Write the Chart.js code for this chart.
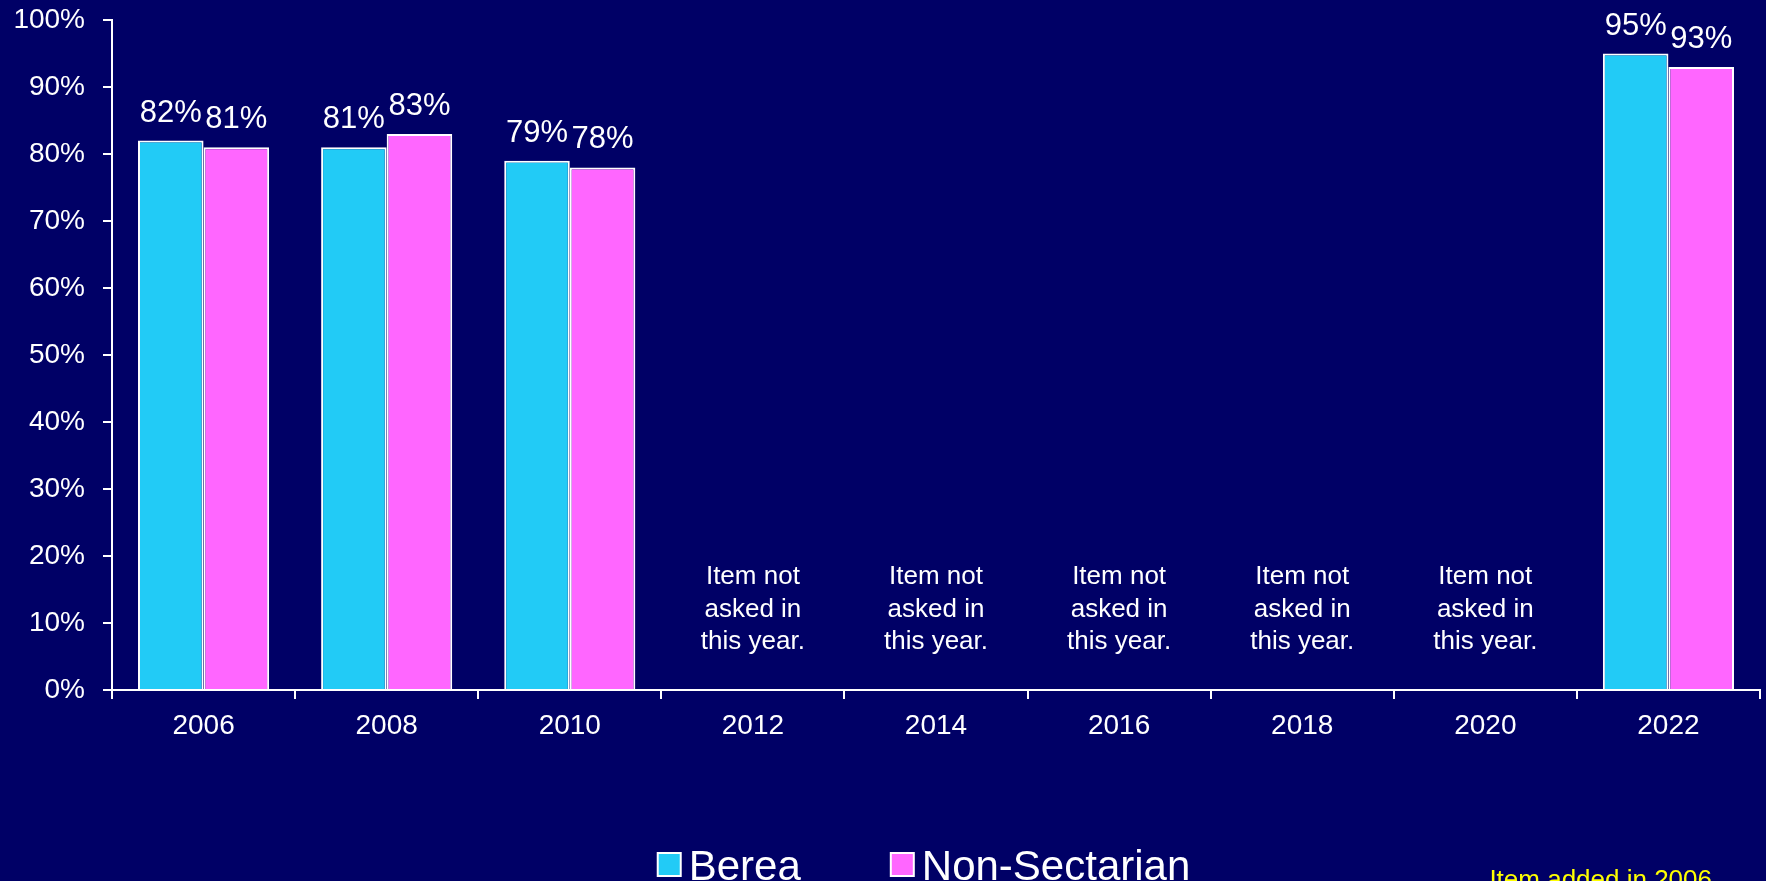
<!DOCTYPE html>
<html>
<head>
<meta charset="utf-8">
<script src="https://cdn.jsdelivr.net/npm/chart.js@4/dist/chart.umd.min.js"></script>
<style>
  html, body { margin: 0; padding: 0; background: #000066; overflow: hidden; }
  canvas { display: block; }
</style>
</head>
<body>
<canvas id="chart" width="1766" height="881"></canvas>
<script>
const years = ['2006', '2008', '2010', '2012', '2014', '2016', '2018', '2020', '2022'];
const bereaValues = [82, 81, 79, null, null, null, null, null, 95];
const nonSectarianValues = [81, 83, 78, null, null, null, null, null, 93];
const seriesNames = ['Berea', 'Non-Sectarian'];
const seriesColors = ['#22CBF6', '#FF66FF'];
const noteLines = ['Item not', 'asked in', 'this year.'];
const footnote = 'Item added in 2006';

const FONT = "'Liberation Sans', Arial, sans-serif";

// etiquetas de valor encima de cada barra
const valueLabels = {
    id: 'valueLabels',
    afterDatasetsDraw(chart) {
        const ctx = chart.ctx;
        ctx.save();
        ctx.fillStyle = '#ffffff';
        ctx.font = '31px ' + FONT;
        ctx.textAlign = 'center';
        ctx.textBaseline = 'alphabetic';
        chart.data.datasets.forEach((ds, i) => {
            chart.getDatasetMeta(i).data.forEach((bar, j) => {
                const v = ds.data[j];
                if (v === null) return;
                ctx.fillText(v + '%', bar.x, bar.y - 19);
            });
        });
        ctx.restore();
    }
};

// texto para los años sin datos, leyenda y nota al pie
const extras = {
    id: 'extras',
    afterDraw(chart) {
        const ctx = chart.ctx;
        const xs = chart.scales.x;
        const ys = chart.scales.y;
        ctx.save();
        ctx.fillStyle = '#ffffff';
        ctx.font = '26px ' + FONT;
        ctx.textAlign = 'center';
        ctx.textBaseline = 'middle';
        const midY = ys.getPixelForValue(12);
        years.forEach((yr, i) => {
            if (bereaValues[i] !== null || nonSectarianValues[i] !== null) return;
            const cx = xs.getPixelForValue(i);
            noteLines.forEach((line, k) => {
                ctx.fillText(line, cx, midY + (k - 1) * 32.5);
            });
        });

        // leyenda
        ctx.font = '42px ' + FONT;
        const box = 23, gapText = 8, gapItem = 90;
        const widths = seriesNames.map(n => ctx.measureText(n).width);
        let total = 0;
        widths.forEach((w, i) => { total += box + gapText + w + (i ? gapItem : 0); });
        let x = (chart.chartArea.left + chart.chartArea.right) / 2 - total / 2 - 12;
        ctx.textAlign = 'left';
        ctx.textBaseline = 'alphabetic';
        seriesNames.forEach((name, i) => {
            ctx.fillStyle = seriesColors[i];
            ctx.fillRect(x, 853, box, box);
            ctx.strokeStyle = '#ffffff';
            ctx.lineWidth = 2;
            ctx.strokeRect(x, 853, box, box);
            ctx.fillStyle = '#ffffff';
            ctx.fillText(name, x + box + gapText, 880);
            x += box + gapText + widths[i] + gapItem;
        });

        // nota
        ctx.fillStyle = '#FFFF00';
        ctx.font = '26px ' + FONT;
        ctx.textAlign = 'right';
        ctx.fillText(footnote, chart.width - 54, 888);
        ctx.restore();
    }
};

new Chart(document.getElementById('chart'), {
    type: 'bar',
    data: {
        labels: years,
        datasets: [
            {
                label: seriesNames[0],
                data: bereaValues,
                backgroundColor: seriesColors[0],
                borderColor: '#ffffff',
                borderWidth: 2
            },
            {
                label: seriesNames[1],
                data: nonSectarianValues,
                backgroundColor: seriesColors[1],
                borderColor: '#ffffff',
                borderWidth: 2
            }
        ]
    },
    options: {
        responsive: false,
        animation: false,
        devicePixelRatio: 1,
        layout: { padding: { left: 0, right: 6, top: 20, bottom: 141 } },
        datasets: { bar: { categoryPercentage: 0.716, barPercentage: 1 } },
        scales: {
            x: {
                grid: { display: true, offset: true, drawOnChartArea: false, tickLength: 9, color: '#ffffff', lineWidth: 2 },
                border: { color: '#ffffff', width: 2 },
                ticks: { color: '#ffffff', font: { family: FONT, size: 28 }, padding: 10, maxRotation: 0 },
                afterFit(scale) { scale.height = 50; }
            },
            y: {
                min: 0,
                max: 100,
                grid: { display: true, drawOnChartArea: false, tickLength: 9, color: '#ffffff', lineWidth: 2 },
                border: { color: '#ffffff', width: 2 },
                ticks: {
                    stepSize: 10,
                    color: '#ffffff',
                    font: { family: FONT, size: 28 },
                    padding: 18,
                    callback: v => v + '%'
                },
                afterFit(scale) {
                    scale.width = 112;
                    scale.paddingTop = 0;
                    scale.paddingBottom = 0;
                }
            }
        },
        plugins: {
            legend: { display: false },
            tooltip: { enabled: false }
        }
    },
    plugins: [valueLabels, extras]
});
</script>
</body>
</html>
